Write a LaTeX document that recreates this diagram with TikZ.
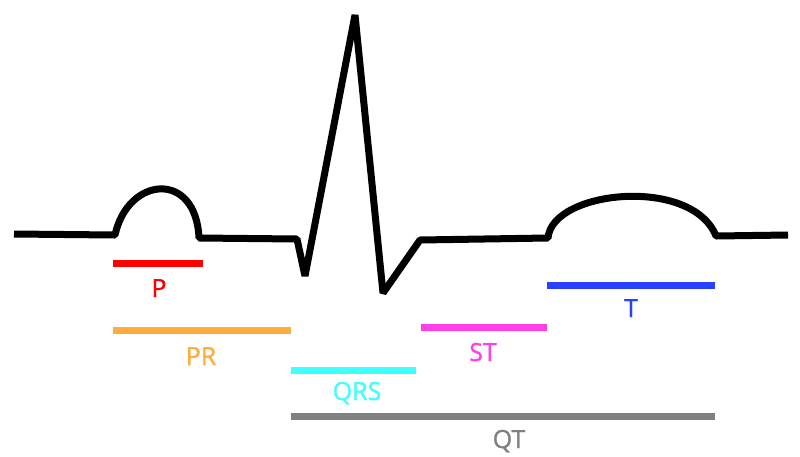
\documentclass[tikz,border=0pt]{standalone}
\usepackage{fontspec}
\setmainfont{Open Sans}
\newfontfamily\lblfont[FakeBold=1.2]{Open Sans}
\definecolor{cP}{RGB}{255,0,0}
\definecolor{cPR}{RGB}{255,172,60}
\definecolor{cQRS}{RGB}{64,255,255}
\definecolor{cST}{RGB}{255,64,230}
\definecolor{cT}{RGB}{40,64,255}
\definecolor{cQT}{RGB}{128,128,128}
\begin{document}
\begin{tikzpicture}[x=1pt,y=-1pt,
  wave/.style={line width=7pt,black,line join=bevel},
  bar/.style={line width=7pt},
  lbl/.style={anchor=base,inner sep=0pt,font=\lblfont\fontsize{25}{25}\selectfont}]
\useasboundingbox (0,0) rectangle (800,456);
% waveform
\coordinate (w0) at (14,234);
\coordinate (p0) at (115,235);
\coordinate (p1) at (199,238);
\coordinate (q0) at (297,239);
\coordinate (q) at (305,276);
\coordinate (r) at (355,15);
\coordinate (s) at (383,293);
\coordinate (st0) at (420,240);
\coordinate (t0) at (548,238);
\coordinate (t1) at (716,236);
\coordinate (w1) at (788,235);
\draw[wave] (w0) -- (p0) .. controls (128,176) and (196,170) .. (p1) -- (q0) -- (q) -- (r) -- (s) -- (st0) -- (t0) .. controls (552,190) and (692,176) .. (t1) -- (w1);
% interval bars
\coordinate (Pa) at (113,263); \coordinate (Pb) at (203,263);
\coordinate (PRa) at (113,330); \coordinate (PRb) at (291,330);
\coordinate (QRSa) at (291,370); \coordinate (QRSb) at (416,370);
\coordinate (STa) at (421,327); \coordinate (STb) at (547,327);
\coordinate (Ta) at (547,285); \coordinate (Tb) at (715,285);
\coordinate (QTa) at (291,416); \coordinate (QTb) at (715,416);
\draw[bar,cP] (Pa) -- (Pb);
\draw[bar,cPR] (PRa) -- (PRb);
\draw[bar,cQRS] (QRSa) -- (QRSb);
\draw[bar,cST] (STa) -- (STb);
\draw[bar,cT] (Ta) -- (Tb);
\draw[bar,cQT] (QTa) -- (QTb);
% labels
\node[lbl,text=cP] (lP) at (159,297) {P};
\node[lbl,text=cPR] (lPR) at (201,365) {PR};
\node[lbl,text=cQRS] (lQRS) at (357,400) {QRS};
\node[lbl,text=cST] (lST) at (483,361) {ST};
\node[lbl,text=cT] (lT) at (631,317) {T};
\node[lbl,text=cQT] (lQT) at (509,448) {QT};
\end{tikzpicture}
\end{document}
